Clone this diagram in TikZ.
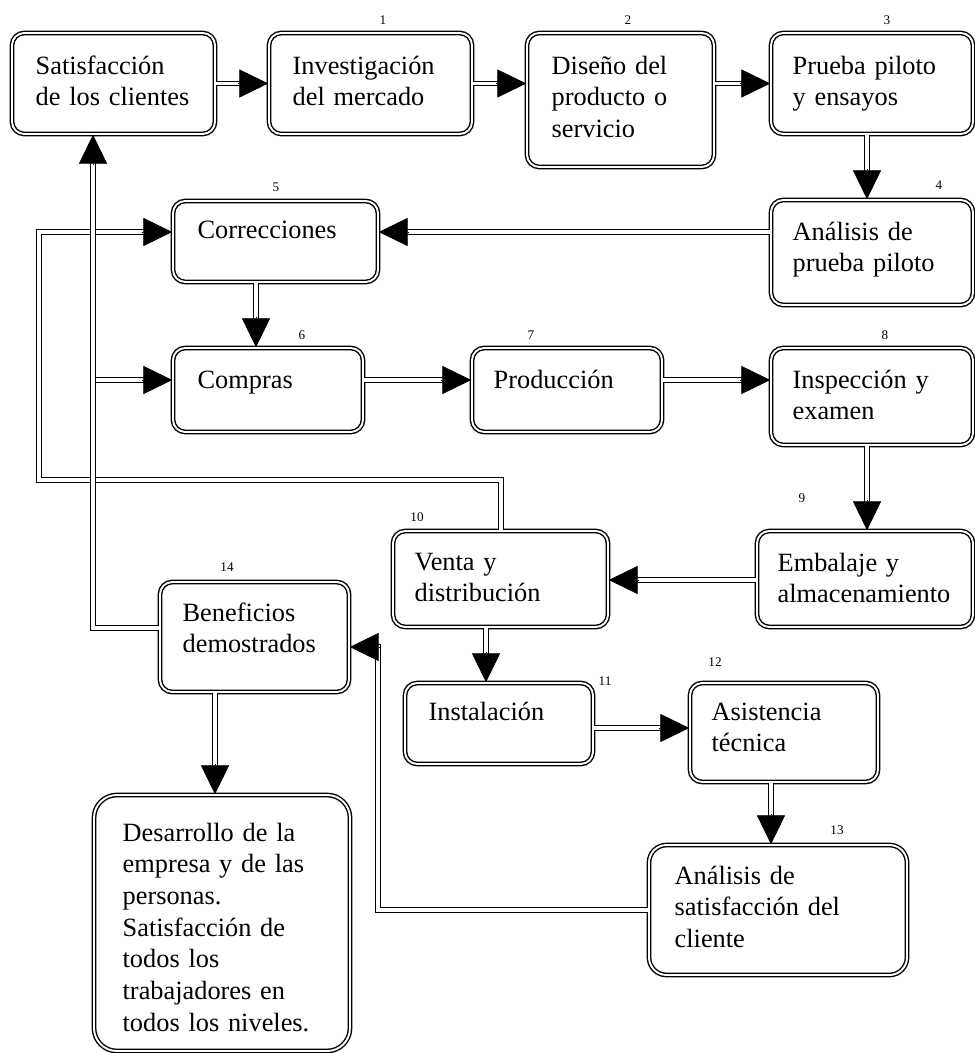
\documentclass[tikz,border=0pt]{standalone}
\usepackage{fontspec}
\setmainfont{Liberation Serif}
\usetikzlibrary{arrows.meta,calc,fit}
\tikzset{
  box/.style={draw, double, double distance=1.1pt, line width=0.8pt, rounded corners=7pt, inner sep=0pt},
  bigbox/.style={box, rounded corners=13pt},
  txt/.style={anchor=base west, inner sep=0pt, text width=7cm, align=left, font=\fontsize{15}{18}\selectfont},
  num/.style={inner sep=0pt, font=\fontsize{7.5}{9}\selectfont},
  conn/.style={double, double distance=1.8pt, line width=0.7pt, shorten >=12pt},
  tipsty/.style={line width=0.4pt, -{Triangle[length=16.5pt,width=16pt]}},
}
\newcommand\tipto[2]{\draw[tipsty] ($(#2)!17pt!(#1)$) -- (#2);}
\begin{document}
\begin{tikzpicture}[x=0.02cm,y=-0.02cm]
\useasboundingbox (0,0) rectangle (974,1053);
% boxes
\node[box, fit={(12,33) (215,134)}] (B1) {};
\node[box, fit={(269,33) (472,134)}] (B2) {};
\node[box, fit={(527,33) (714,167)}] (B3) {};
\node[box, fit={(771,33) (973,134)}] (B4) {};
\node[box, fit={(771,200) (973,305)}] (B5) {};
\node[box, fit={(173,201) (378,282)}] (B6) {};
\node[box, fit={(173,348) (363,432)}] (B7) {};
\node[box, fit={(472,348) (662,432)}] (B8) {};
\node[box, fit={(771,348) (973,445)}] (B9) {};
\node[box, fit={(757,531) (973,627)}] (B10) {};
\node[box, fit={(393,531) (608,627)}] (B11) {};
\node[box, fit={(160,582) (349,692)}] (B12) {};
\node[box, fit={(405,683) (593,764)}] (B13) {};
\node[box, fit={(690,683) (878,782)}] (B14) {};
\node[box, rounded corners=10pt, fit={(649,845) (907,975)}] (B15) {};
\node[bigbox, fit={(94,795) (350,1051)}] (B16) {};
% texts
\node[txt] (T1) at ([shift={(24,42)}]B1.north west) {Satisfacción\\de los clientes};
\node[txt] (T2) at ([shift={(24,42)}]B2.north west) {Investigación\\del mercado};
\node[txt] (T3) at ([shift={(25,42)}]B3.north west) {Diseño del\\producto o\\servicio};
\node[txt] (T4) at ([shift={(22,42)}]B4.north west) {Prueba piloto\\y ensayos};
\node[txt] (T5) at ([shift={(22,41)}]B5.north west) {Análisis de\\prueba piloto};
\node[txt] (T6) at ([shift={(25,38)}]B6.north west) {Correcciones};
\node[txt] (T7) at ([shift={(25,41)}]B7.north west) {Compras};
\node[txt] (T8) at ([shift={(22,41)}]B8.north west) {Producción};
\node[txt] (T9) at ([shift={(22,41)}]B9.north west) {Inspección y\\examen};
\node[txt] (T10) at ([shift={(21,41)}]B10.north west) {Embalaje y\\almacenamiento};
\node[txt] (T11) at ([shift={(22,40)}]B11.north west) {Venta y\\distribución};
\node[txt] (T12) at ([shift={(23,40)}]B12.north west) {Beneficios\\demostrados};
\node[txt] (T13) at ([shift={(24,38)}]B13.north west) {Instalación};
\node[txt] (T14) at ([shift={(22,38)}]B14.north west) {Asistencia\\técnica};
\node[txt] (T15) at ([shift={(26,40)}]B15.north west) {Análisis de\\satisfacción del\\cliente};
\node[txt] (T16) at ([shift={(29,47)}]B16.north west) {Desarrollo de la\\empresa y de las\\personas.\\Satisfacción de\\todos los\\trabajadores en\\todos los niveles.};
% numbers
\node[num] (N1) at (383,20) {1};
\node[num] (N2) at (628,20) {2};
\node[num] (N3) at (887,20) {3};
\node[num] (N4) at (939,185) {4};
\node[num] (N5) at (276,187) {5};
\node[num] (N6) at (302,335) {6};
\node[num] (N7) at (531,335) {7};
\node[num] (N8) at (885,335) {8};
\node[num] (N9) at (802,498) {9};
\node[num] (N10) at (417,517) {10};
\node[num] (N11) at (605,681) {11};
\node[num] (N12) at (715,662) {12};
\node[num] (N13) at (837,830) {13};
\node[num] (N14) at (227,567) {14};
% routing levels
\coordinate (X39) at (39,0);
\coordinate (X93) at (93,0);
\coordinate (X215) at (215,0);
\coordinate (X256) at (256,0);
\coordinate (X378) at (378,0);
\coordinate (X486) at (486,0);
\coordinate (X501) at (501,0);
\coordinate (X771) at (771,0);
\coordinate (X867) at (867,0);
\coordinate (Y232) at (0,232);
\coordinate (Y380) at (0,380);
\coordinate (Y480) at (0,480);
\coordinate (Y580) at (0,580);
\coordinate (Y628) at (0,628);
\coordinate (Y647) at (0,647);
\coordinate (Y728) at (0,728);
\coordinate (Y910) at (0,910);
% c1
\draw[conn] (B1.east) -- (B2.west); \tipto{B1.east}{B2.west}
% c2
\coordinate (c2e) at (B2.east -| B3.west);
\draw[conn] (B2.east) -- (c2e); \tipto{B2.east}{c2e}
% c3
\coordinate (c3s) at (B4.west -| B3.east);
\draw[conn] (c3s) -- (B4.west); \tipto{c3s}{B4.west}
% c4
\coordinate (c4s) at (B4.south -| X867);
\coordinate (c4e) at (B5.north -| X867);
\draw[conn] (c4s) -- (c4e); \tipto{c4s}{c4e}
% c5
\coordinate (c5s) at (B5.west |- Y232);
\coordinate (c5e) at (B6.east |- Y232);
\draw[conn] (c5s) -- (c5e); \tipto{c5s}{c5e}
% c6
\coordinate (c6s) at (B6.south -| X256);
\coordinate (c6e) at (B7.north -| X256);
\draw[conn] (c6s) -- (c6e); \tipto{c6s}{c6e}
% c7
\coordinate (c7s) at (B7.east |- Y380);
\coordinate (c7e) at (B8.west |- Y380);
\draw[conn] (c7s) -- (c7e); \tipto{c7s}{c7e}
% c8
\coordinate (c8s) at (B8.east |- Y380);
\coordinate (c8e) at (B9.west |- Y380);
\draw[conn] (c8s) -- (c8e); \tipto{c8s}{c8e}
% c9
\coordinate (c9s) at (B9.south -| X867);
\coordinate (c9e) at (B10.north -| X867);
\draw[conn] (c9s) -- (c9e); \tipto{c9s}{c9e}
% c10
\coordinate (c10s) at (B10.west |- Y580);
\coordinate (c10e) at (B11.east |- Y580);
\draw[conn] (c10s) -- (c10e); \tipto{c10s}{c10e}
% c11
\coordinate (c11s) at (B11.south -| X486);
\coordinate (c11e) at (B13.north -| X486);
\draw[conn] (c11s) -- (c11e); \tipto{c11s}{c11e}
% c12
\coordinate (c12s) at (B13.east |- Y728);
\coordinate (c12e) at (B14.west |- Y728);
\draw[conn] (c12s) -- (c12e); \tipto{c12s}{c12e}
% c13
\coordinate (c13s) at (B14.south -| X771);
\coordinate (c13e) at (B15.north -| X771);
\draw[conn] (c13s) -- (c13e); \tipto{c13s}{c13e}
% c14
\coordinate (c14s) at (B15.west |- Y910);
\coordinate (c14a) at (X378 |- Y910);
\coordinate (c14b) at (X378 |- Y647);
\coordinate (c14e) at (B12.east |- Y647);
\draw[conn] (c14s) -- (c14a) -- (c14b) -- (c14e); \tipto{c14b}{c14e}
% c15
\coordinate (c15s) at (B12.south -| X215);
\coordinate (c15e) at (B16.north -| X215);
\draw[conn] (c15s) -- (c15e); \tipto{c15s}{c15e}
% c18 (Venta -> Correcciones)
\coordinate (c18s) at (B11.north -| X501);
\coordinate (c18a) at (X501 |- Y480);
\coordinate (c18b) at (X39 |- Y480);
\coordinate (c18c) at (X39 |- Y232);
\coordinate (c18e) at (B6.west |- Y232);
\draw[conn] (c18s) -- (c18a) -- (c18b) -- (c18c) -- (c18e); \tipto{c18c}{c18e}
% c17 (branch -> Compras)
\coordinate (c17s) at (X93 |- Y380);
\coordinate (c17e) at (B7.west |- Y380);
\draw[conn] (c17s) -- (c17e); \tipto{c17s}{c17e}
% c16 (Beneficios -> Satisfaccion)
\coordinate (c16s) at (B12.west |- Y628);
\coordinate (c16a) at (X93 |- Y628);
\coordinate (c16e) at (B1.south -| X93);
\draw[conn] (c16s) -- (c16a) -- (c16e); \tipto{c16a}{c16e}
\end{tikzpicture}
\end{document}
